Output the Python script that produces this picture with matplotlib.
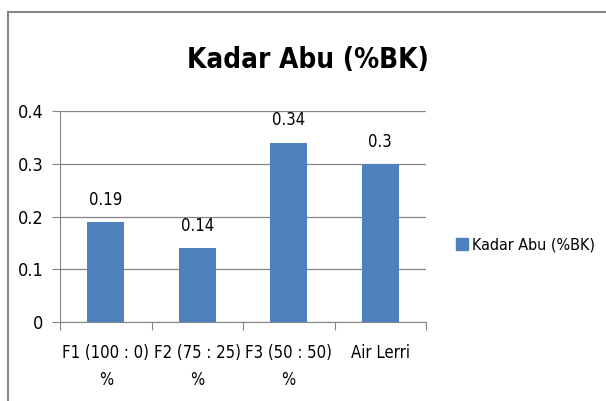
import matplotlib.pyplot as plt
from matplotlib.lines import Line2D

categories = ["F1 (100 : 0)\n%", "F2 (75 : 25)\n%", "F3 (50 : 50)\n%", "Air Lerri"]
values = [0.19, 0.14, 0.34, 0.3]
value_labels = ["0.19", "0.14", "0.34", "0.3"]
yticks = [0, 0.1, 0.2, 0.3, 0.4]
ytick_labels = ["0", "0.1", "0.2", "0.3", "0.4"]
series_name = "Kadar Abu (%BK)"

plt.rcParams['font.family'] = ['DejaVu Sans']
plt.rcParams['font.stretch'] = 'condensed'

W, H = 606, 401
fig = plt.figure(figsize=(W / 100, H / 100), dpi=100)
ax = fig.add_axes([60 / W, (H - 322) / H, (426 - 60) / W, (322 - 111) / H])

bar_color = "#4F81BD"
x = list(range(len(categories)))
bars = ax.bar(x, values, width=0.4, color=bar_color, zorder=3)
for b, lab in zip(bars, value_labels):
    ax.text(b.get_x() + b.get_width() / 2, b.get_height() + 0.025, lab,
            ha="center", va="bottom", fontsize=12)

ax.set_xlim(-0.5, len(categories) - 0.5)
ax.set_ylim(0, 0.4)
ax.set_yticks(yticks)
ax.set_yticklabels(ytick_labels, fontsize=13)
ax.yaxis.grid(True, color="#868686", linewidth=0.9, zorder=0)

# category boundaries carry the tick marks, labels sit between them
ax.set_xticks([i + 0.5 for i in range(-1, len(categories))], minor=False)
ax.set_xticklabels([])
ax.set_xticks(x, minor=True)
ax.set_xticklabels(categories, minor=True, fontsize=12, linespacing=1.6)
ax.tick_params(axis="x", which="major", length=6, color="#868686", direction="out")
ax.tick_params(axis="x", which="minor", length=0, pad=16)
ax.tick_params(axis="y", length=6, color="#868686", pad=6)

for side in ["top", "right"]:
    ax.spines[side].set_visible(False)
ax.spines["left"].set_color("#868686")
ax.spines["bottom"].set_color("#868686")

fig.text(308 / W, 1 - 60 / H, "Kadar Abu (%BK)", ha="center", va="center",
         fontsize=20, fontweight="bold")

handle = Line2D([], [], marker="s", linestyle="none", markersize=8,
                markerfacecolor=bar_color, markeredgecolor=bar_color)
fig.legend([handle], [series_name], loc="center left",
           bbox_to_anchor=(440 / W, 1 - 245 / H), frameon=False,
           fontsize=11.5, handletextpad=0.1, handlelength=1.0)

# chart frame (left and top edges visible)
fig.add_artist(Line2D([8 / W, 8 / W], [0, 1 - 12 / H], color="#868686", linewidth=1.5))
fig.add_artist(Line2D([8 / W, 1], [1 - 12 / H, 1 - 12 / H], color="#868686", linewidth=1.5))

fig.savefig("out.png", dpi=100)
